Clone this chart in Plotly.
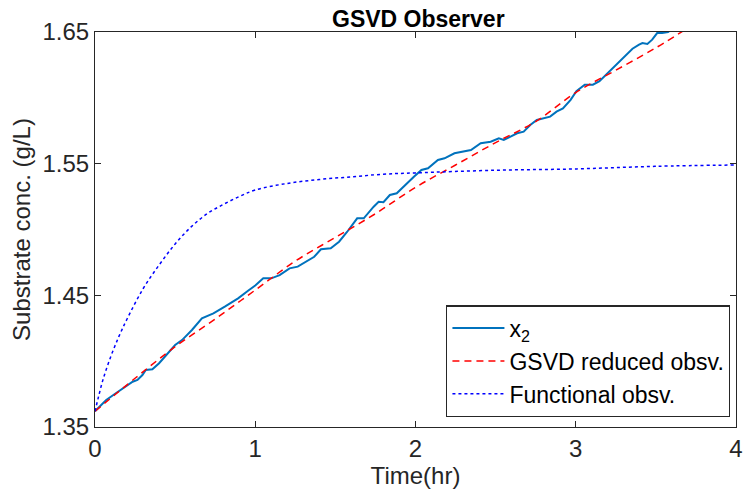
import plotly.graph_objects as go

# x2 (measured, noisy)
x2_t = [0.0, 0.07, 0.13, 0.19, 0.235, 0.265, 0.296, 0.317, 0.358, 0.40, 0.46, 0.50, 0.543, 0.605,
        0.667, 0.708, 0.739, 0.81, 0.893, 0.955, 1.0, 1.05, 1.10, 1.152, 1.214, 1.265, 1.317, 1.368,
        1.41, 1.471, 1.523, 1.574, 1.636, 1.677, 1.739, 1.77, 1.80, 1.84, 1.883, 1.944, 1.99,
        2.037, 2.078, 2.14, 2.181, 2.243, 2.284, 2.346, 2.407, 2.469, 2.52, 2.551, 2.593, 2.634,
        2.675, 2.716, 2.757, 2.798, 2.84, 2.88, 2.92, 2.968, 3.004, 3.056, 3.107, 3.148, 3.19,
        3.23, 3.272, 3.313, 3.354, 3.395, 3.416, 3.447, 3.477, 3.508, 3.539, 3.576, 3.62]
x2_v = [1.362, 1.3705, 1.3756, 1.3806, 1.3844, 1.3857, 1.3895, 1.3933, 1.3938, 1.3984, 1.4072,
        1.4123, 1.416, 1.4237, 1.4326, 1.435, 1.4363, 1.4414, 1.4477, 1.4535, 1.4575, 1.4629,
        1.4629, 1.4654, 1.4705, 1.4718, 1.4756, 1.4793, 1.485, 1.4857, 1.4907, 1.4983, 1.5085,
        1.5085, 1.5173, 1.5211, 1.5207, 1.5262, 1.5275, 1.535, 1.5400, 1.5452, 1.5465, 1.5528,
        1.5541, 1.5579, 1.5591, 1.5604, 1.5655, 1.5667, 1.5693, 1.568, 1.5705, 1.5731, 1.5743,
        1.5794, 1.5832, 1.5845, 1.5857, 1.5895, 1.592, 1.5985, 1.605, 1.61, 1.61, 1.6126, 1.6176,
        1.6227, 1.6277, 1.6328, 1.6373, 1.6404, 1.6416, 1.6409, 1.6442, 1.6492, 1.6492, 1.650,
        1.654]

# GSVD reduced observer
gsvd_t = [0.0, 0.25, 0.5, 0.75, 1.0, 1.25, 1.5, 1.75, 2.0, 2.25, 2.5, 2.75, 3.0, 3.25, 3.5, 3.75]
gsvd_v = [1.362, 1.387, 1.411, 1.432, 1.454, 1.476, 1.494, 1.512, 1.532, 1.549, 1.566, 1.582,
          1.604, 1.621, 1.638, 1.657]

# Functional observer
func_t = [0.0, 0.02, 0.05, 0.1, 0.15, 0.2, 0.3, 0.4, 0.5, 0.6, 0.7, 0.8, 0.9, 1.0, 1.2, 1.4,
          1.6, 1.8, 2.0, 2.5, 3.0, 3.5, 4.0]
func_v = [1.362, 1.372, 1.386, 1.404, 1.419, 1.432, 1.455, 1.473, 1.489, 1.502, 1.512, 1.519,
          1.525, 1.530, 1.535, 1.538, 1.540, 1.542, 1.543, 1.545, 1.546, 1.548, 1.549]

x_ticks = [0, 1, 2, 3, 4]
y_ticks = [1.35, 1.45, 1.55, 1.65]
y_tick_labels = ["1.35", "1.45", "1.55", "1.65"]

FONT = "Liberation Sans, Arial, Helvetica"

fig = go.Figure()
fig.add_trace(go.Scatter(x=x2_t, y=x2_v, mode="lines", name="x<sub>2</sub>",
                         line=dict(color="#0072BD", width=2)))
fig.add_trace(go.Scatter(x=gsvd_t, y=gsvd_v, mode="lines", name="GSVD reduced obsv.",
                         line=dict(color="#FF0000", width=1.5, dash="7px,5px", shape="spline")))
fig.add_trace(go.Scatter(x=func_t, y=func_v, mode="lines", name="Functional obsv.",
                         line=dict(color="#0000FF", width=1.5, dash="dot", shape="spline")))

axis_common = dict(showgrid=False, zeroline=False, showline=True, linecolor="#262626",
                   linewidth=1.2, mirror="ticks", ticks="inside", ticklen=6, tickcolor="#262626",
                   tickfont=dict(family=FONT, size=24, color="#262626"))

fig.update_layout(
    width=751, height=502,
    margin=dict(l=95, r=8, t=32, b=75),
    paper_bgcolor="white", plot_bgcolor="white",
    title=dict(text="<b>GSVD Observer</b>", x=0.557, xanchor="center", y=0.978, yanchor="top",
               font=dict(family=FONT, size=23, color="black")),
    xaxis=dict(range=[0, 4], tickvals=x_ticks,
               title=dict(text="Time(hr)", font=dict(family=FONT, size=24, color="#262626"),
                          standoff=4),
               **axis_common),
    yaxis=dict(range=[1.35, 1.65], tickvals=y_ticks, ticktext=y_tick_labels,
               title=dict(text="Substrate conc. (g/L)",
                          font=dict(family=FONT, size=24, color="#262626"), standoff=4),
               **axis_common),
    legend=dict(x=0.991, y=0.308, xanchor="right", yanchor="top",
                bgcolor="white", bordercolor="#262626", borderwidth=1.2,
                font=dict(family=FONT, size=23, color="black"),
                tracegroupgap=0, itemwidth=52),
    showlegend=True,
)

fig.write_html("out.html")
